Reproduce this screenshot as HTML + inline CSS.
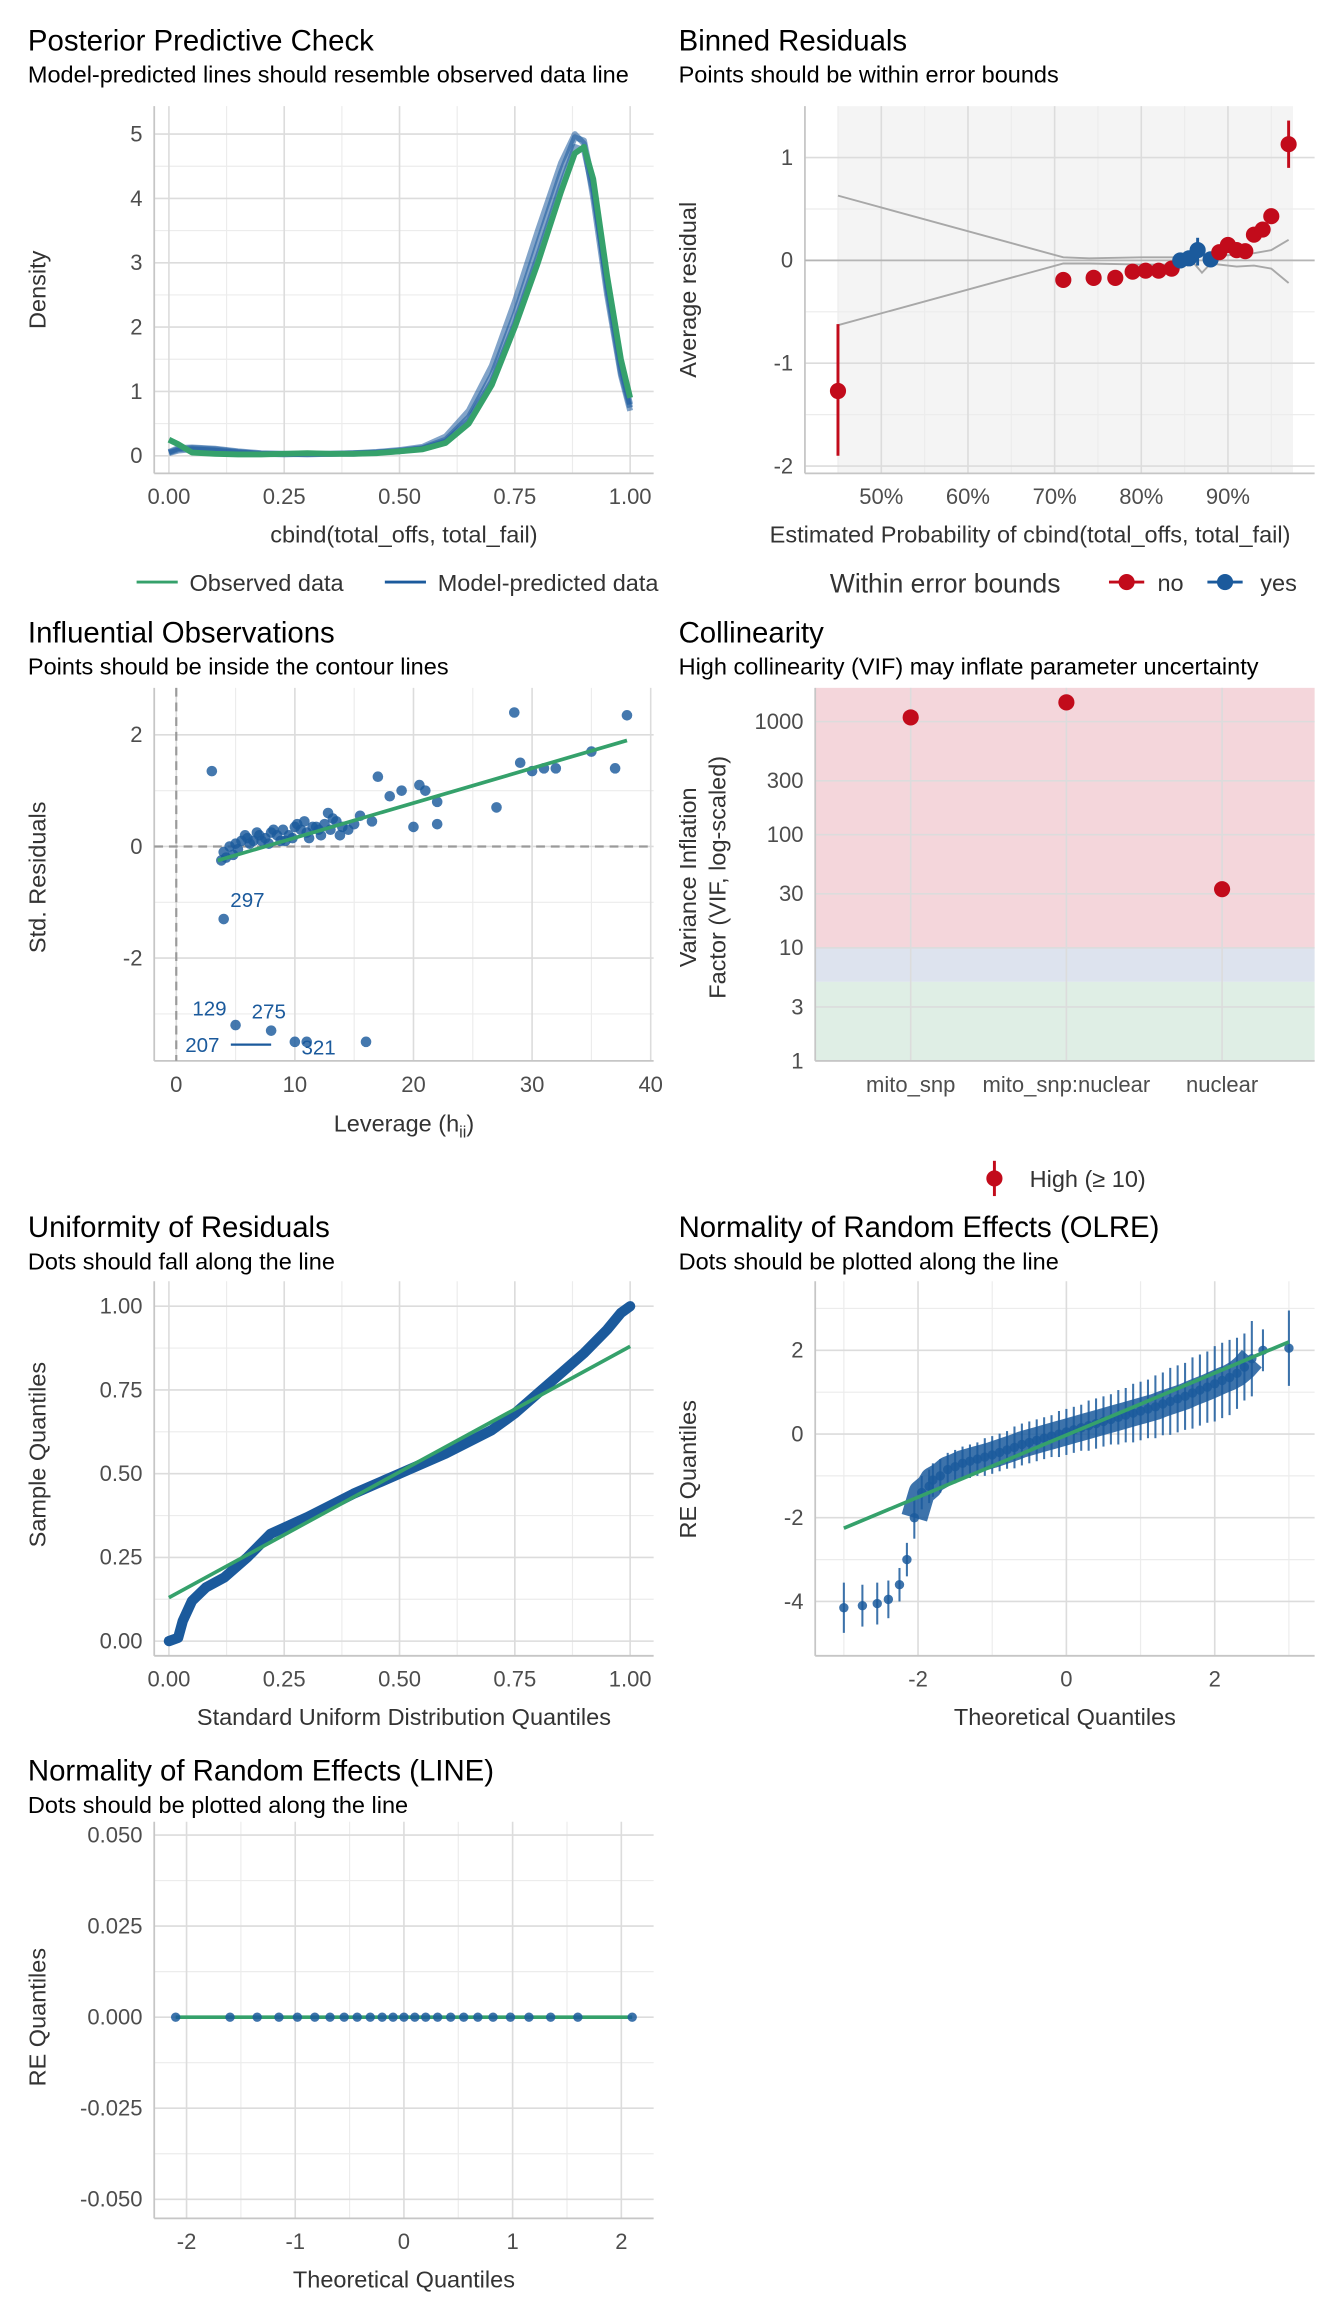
<!DOCTYPE html>
<html><head><meta charset="utf-8"><style>
html,body{margin:0;padding:0;background:#fff;}
svg{display:block;font-family:"Liberation Sans",Arial,sans-serif;}
</style></head><body>
<svg id="chart" width="1344" height="2304" viewBox="0 0 915 1568" xmlns="http://www.w3.org/2000/svg"></svg>
<script>
// ---------- DATA ----------
const ppcX = [0,0.02,0.05,0.1,0.15,0.2,0.25,0.3,0.35,0.4,0.45,0.5,0.55,0.6,0.65,0.7,0.75,0.8,0.85,0.88,0.9,0.92,0.95,0.98,1.0];
const ppcObserved = [0.25,0.18,0.05,0.03,0.02,0.02,0.03,0.04,0.03,0.03,0.04,0.07,0.1,0.2,0.5,1.1,2.0,3.0,4.1,4.7,4.8,4.3,2.8,1.5,0.9];
const ppcDraw1 = [0.05,0.1,0.12,0.1,0.06,0.03,0.03,0.03,0.03,0.04,0.05,0.08,0.12,0.25,0.6,1.25,2.2,3.3,4.4,4.95,4.9,4.2,2.6,1.3,0.75];
const ppcDraw2 = [0.04,0.08,0.1,0.08,0.05,0.03,0.02,0.03,0.03,0.03,0.05,0.07,0.11,0.22,0.55,1.15,2.05,3.1,4.2,4.8,4.75,4.1,2.7,1.4,0.8];
const ppcDraw3 = [0.06,0.12,0.13,0.11,0.07,0.04,0.03,0.02,0.03,0.04,0.06,0.09,0.14,0.3,0.7,1.4,2.4,3.5,4.55,5.0,4.85,4.0,2.5,1.25,0.7];

const binX = [45,71,74.5,77,79,80.5,82,83.5,84.5,85.5,86.5,88,89,90,91,92,93,94,95,97];
const binY = [-1.27,-0.19,-0.17,-0.17,-0.11,-0.1,-0.1,-0.08,0.0,0.02,0.1,0.01,0.08,0.15,0.1,0.09,0.25,0.3,0.43,1.13];
const binLo = [-1.9,-0.19,-0.17,-0.17,-0.11,-0.1,-0.1,-0.08,0.0,0.02,-0.05,0.01,0.08,0.15,0.1,0.09,0.25,0.3,0.43,0.9];
const binHi = [-0.62,-0.19,-0.17,-0.17,-0.11,-0.1,-0.1,-0.08,0.0,0.02,0.22,0.01,0.08,0.15,0.1,0.09,0.25,0.3,0.43,1.36];
const binOk = [0,0,0,0,0,0,0,0,1,1,1,1,0,0,0,0,0,0,0,0];
const boundX = [45,71,74,80,84,86,87,88,90,91,93,95,97];
const boundUp = [0.63,0.03,0.02,0.03,0.03,0.04,0.05,0.05,0.05,0.06,0.07,0.1,0.2];
const boundLow = [-0.63,-0.03,-0.03,-0.04,-0.04,-0.02,-0.12,-0.03,-0.05,-0.06,-0.05,-0.08,-0.22];

const infLev = [3,4,5,8,10,11,16,28.5,38,37,32,30,22,21,20.5,19,18,17,27,35,31,29,20,22,
 4,4.5,5,5.5,6,6.5,7,7.5,8,8.5,9,9.5,10,10.5,11,11.5,12,12.5,13,13.5,14,14.5,15,4.2,5.2,6.2,7.2,8.2,9.2,10.2,11.2,12.2,13.2,5.8,6.8,7.8,8.8,9.8,10.8,11.8,13.8,15.5,16.5,4.8,3.8,12.8];
const infRes = [1.35,-1.3,-3.2,-3.3,-3.5,-3.5,-3.5,2.4,2.35,1.4,1.4,1.35,0.8,1.0,1.1,1.0,0.9,1.25,0.7,1.7,1.4,1.5,0.35,0.4,
 -0.1,0.0,0.05,0.1,0.15,0.1,0.2,0.15,0.25,0.2,0.3,0.2,0.35,0.3,0.25,0.35,0.3,0.4,0.3,0.45,0.35,0.3,0.4,-0.2,-0.05,0.05,0.1,0.3,0.1,0.4,0.15,0.2,0.5,0.2,0.25,0.05,0.1,0.15,0.45,0.35,0.2,0.55,0.45,-0.15,-0.25,0.6];
const infLabels = ["297","129","275","207","321"];
const infLabelLev = [6,2.8,7.8,2.2,12];
const infLabelRes = [-0.95,-2.9,-2.95,-3.55,-3.6];
const infFit = [[3.5,-0.25],[38,1.9]];

const vifTerms = ["mito_snp","mito_snp:nuclear","nuclear"];
const vifValues = [1090,1480,33];

const unifX = [0,0.02,0.03,0.05,0.08,0.12,0.17,0.22,0.3,0.4,0.5,0.6,0.7,0.75,0.8,0.85,0.9,0.95,0.98,1];
const unifY = [0,0.01,0.06,0.12,0.16,0.19,0.25,0.32,0.37,0.44,0.5,0.56,0.63,0.68,0.74,0.8,0.86,0.93,0.98,1];
const unifFit = [[0,0.13],[1,0.88]];

const olreX = [-3,-2.75,-2.55,-2.4,-2.25,-2.15,-2.05,-1.95,-1.85,-1.8,-1.7,-1.6,-1.5,-1.4,-1.3,-1.2,-1.1,-1,-0.9,-0.8,-0.7,-0.6,-0.5,-0.4,-0.3,-0.2,-0.1,0,0.1,0.2,0.3,0.4,0.5,0.6,0.7,0.8,0.9,1,1.1,1.2,1.3,1.4,1.5,1.6,1.7,1.8,1.9,2.0,2.1,2.2,2.3,2.4,2.5,2.65,3.0];
const olreY = [-4.15,-4.1,-4.05,-3.95,-3.6,-3.0,-2.0,-1.4,-1.25,-1.1,-1.0,-0.85,-0.78,-0.7,-0.65,-0.6,-0.55,-0.5,-0.44,-0.38,-0.32,-0.25,-0.2,-0.15,-0.1,-0.05,0.0,0.05,0.1,0.15,0.2,0.25,0.3,0.35,0.4,0.45,0.5,0.55,0.6,0.65,0.72,0.78,0.84,0.9,0.98,1.05,1.12,1.2,1.28,1.35,1.45,1.6,1.8,2.0,2.05];
const olreErr = [0.6,0.5,0.5,0.45,0.4,0.4,0.5,0.4,0.4,0.4,0.4,0.4,0.4,0.4,0.4,0.4,0.45,0.45,0.45,0.45,0.5,0.5,0.5,0.5,0.5,0.5,0.55,0.55,0.55,0.55,0.6,0.6,0.6,0.6,0.65,0.65,0.7,0.7,0.7,0.75,0.75,0.8,0.8,0.8,0.85,0.85,0.85,0.9,0.9,0.9,0.85,0.8,0.9,0.5,0.9];
const olreFit = [[-3,-2.25],[3,2.2]];

const lineX = [-2.1,-1.6,-1.35,-1.15,-0.98,-0.82,-0.68,-0.55,-0.43,-0.31,-0.2,-0.1,0,0.1,0.2,0.31,0.43,0.55,0.68,0.82,0.98,1.15,1.35,1.6,2.1];
const lineY = [0,0,0,0,0,0,0,0,0,0,0,0,0,0,0,0,0,0,0,0,0,0,0,0,0];

// ---------- HELPERS ----------
const svg = document.getElementById('chart');
const NS = 'http://www.w3.org/2000/svg';
const BLUE = '#1b5a9c', GREEN = '#35a16b', RED = '#c20b1b';
function mk(tag, at, parent){const e=document.createElementNS(NS,tag);for(const k in at)e.setAttribute(k,at[k]);(parent||svg).appendChild(e);return e;}
function txt(x,y,s,size,fill,anchor,parent,rot){const t=mk('text',{x:x,y:y,'font-size':size,fill:fill,'text-anchor':anchor||'start'},parent);if(rot)t.setAttribute('transform','rotate(-90 '+x+' '+y+')');t.textContent=s;return t;}
function lin(d0,d1,r0,r1){return v=>r0+(v-d0)/(d1-d0)*(r1-r0);}

function panel(o){
  const g = mk('g',{});
  
  
  txt(o.tx,34+o.ty,o.title,20,'#000','start',g);
  txt(o.tx,56+o.ty,o.sub,16,'#000','start',g);
  if(o.bg) o.bg(g);
  (o.xmin||[]).forEach(v=>mk('line',{x1:o.sx(v),x2:o.sx(v),y1:o.y0,y2:o.y1,stroke:'#ececec','stroke-width':0.8},g));
  (o.ymin||[]).forEach(v=>mk('line',{y1:o.sy(v),y2:o.sy(v),x1:o.x0,x2:o.x1,stroke:'#ececec','stroke-width':0.8},g));
  o.xmaj.forEach(v=>mk('line',{x1:o.sx(v),x2:o.sx(v),y1:o.y0,y2:o.y1,stroke:'#dcdcdc','stroke-width':1.1},g));
  o.ymaj.forEach(v=>mk('line',{y1:o.sy(v),y2:o.sy(v),x1:o.x0,x2:o.x1,stroke:'#dcdcdc','stroke-width':1.1},g));
  mk('line',{x1:o.x0,x2:o.x0,y1:o.y0,y2:o.y1,stroke:'#c6c6c6','stroke-width':1.2},g);
  mk('line',{x1:o.x0,x2:o.x1,y1:o.y1,y2:o.y1,stroke:'#c6c6c6','stroke-width':1.2},g);
  o.xmaj.forEach((v,i)=>{const t=txt(o.sx(v),o.y1+21,o.xlab[i],15,'#4d4d4d','middle',g);});
  o.ymaj.forEach((v,i)=>{const t=txt(o.x0-8,o.sy(v)+5,o.ylab[i],15,'#4d4d4d','end',g);});
  if(o.xtitle){const t=txt(o.xstart||(o.x0+o.x1)/2,o.y1+47,o.xtitle,16,'#333',o.xstart?'start':'middle',g);}
  return g;
}
function polyline(xs,ys,sx,sy,at,g){return mk('polyline',Object.assign({points:xs.map((x,i)=>sx(x)+','+sy(ys[i])).join(' '),fill:'none'},at),g);}

// ---------- PANEL 1: PPC ----------
{
 const sx=lin(0,1,115,429), sy=lin(0,5,310,91);
 const g=panel({name:'posterior-predictive-check',tx:19,ty:0,title:'Posterior Predictive Check',sub:'Model-predicted lines should resemble observed data line',
  x0:105,x1:445,y0:72,y1:322,sx,sy,xmaj:[0,0.25,0.5,0.75,1],xmin:[0.125,0.375,0.625,0.875],ymaj:[0,1,2,3,4,5],ymin:[0.5,1.5,2.5,3.5,4.5],
  xlab:['0.00','0.25','0.50','0.75','1.00'],ylab:['0','1','2','3','4','5'],xtitle:'cbind(total_offs, total_fail)'});
 txt(31,197,'Density',16,'#333','middle',g,true);
 [ppcDraw1,ppcDraw2,ppcDraw3].forEach(d=>{const p=polyline(ppcX,d,sx,sy,{stroke:BLUE,'stroke-width':4,'stroke-opacity':0.55,'stroke-linejoin':'round'},g);});
 const ob=polyline(ppcX,ppcObserved,sx,sy,{stroke:GREEN,'stroke-width':4,'stroke-linejoin':'round'},g);
 
 mk('line',{x1:93,x2:121,y1:396,y2:396,stroke:GREEN,'stroke-width':2},g);
 txt(129,402,'Observed data',16,'#333','start',g);
 mk('line',{x1:262,x2:290,y1:396,y2:396,stroke:BLUE,'stroke-width':2},g);
 txt(298,402,'Model-predicted data',16,'#333','start',g);
}

// ---------- PANEL 2: Binned residuals ----------
{
 const sx=lin(50,90,600,836), sy=lin(0,1,177,107);
 const g=panel({name:'binned-residuals',tx:462,ty:0,title:'Binned Residuals',sub:'Points should be within error bounds',
  x0:548,x1:895,y0:72,y1:322,sx,sy,xmaj:[50,60,70,80,90],xmin:[45,55,65,75,85,95],ymaj:[1,0,-1,-2],ymin:[0.5,-0.5,-1.5],
  xlab:['50%','60%','70%','80%','90%'],ylab:['1','0','-1','-2'],xtitle:'Estimated Probability of cbind(total_offs, total_fail)',xstart:524,
  bg:gg=>{mk('rect',{x:sx(45),y:72,width:sx(97.5)-sx(45),height:250,fill:'#f4f4f4'},gg);}});
 txt(474,197,'Average residual',16,'#333','middle',g,true);
 mk('line',{x1:548,x2:895,y1:sy(0),y2:sy(0),stroke:'#b5b5b5','stroke-width':1.2},g);
 polyline(boundX,boundUp,sx,sy,{stroke:'#a8a8a8','stroke-width':1.3},g);
 polyline(boundX,boundLow,sx,sy,{stroke:'#a8a8a8','stroke-width':1.3},g);
 binX.forEach((x,i)=>{const c=binOk[i]?BLUE:RED;
  const l=mk('line',{x1:sx(x),x2:sx(x),y1:sy(binLo[i]),y2:sy(binHi[i]),stroke:c,'stroke-width':2},g);
  
  const p=mk('circle',{cx:sx(x),cy:sy(binY[i]),r:5.5,fill:c},g);
  });
 txt(565,403,'Within error bounds',18,'#333','start',g);
 mk('line',{x1:755,x2:779,y1:396,y2:396,stroke:RED,'stroke-width':2},g);mk('circle',{cx:767,cy:396,r:5.5,fill:RED},g);
 txt(788,402,'no',16,'#333','start',g);
 mk('line',{x1:822,x2:846,y1:396,y2:396,stroke:BLUE,'stroke-width':2},g);mk('circle',{cx:834,cy:396,r:5.5,fill:BLUE},g);
 txt(858,402,'yes',16,'#333','start',g);
}

// ---------- PANEL 3: Influential ----------
{
 const sx=lin(0,40,120,443), sy=lin(0,2,576,500);
 const g=panel({name:'influential-observations',tx:19,ty:403,title:'Influential Observations',sub:'Points should be inside the contour lines',
  x0:105,x1:445,y0:468,y1:722,sx,sy,xmaj:[0,10,20,30,40],xmin:[5,15,25,35],ymaj:[2,0,-2],ymin:[1,-1,-3],
  xlab:['0','10','20','30','40'],ylab:['2','0','-2'],xtitle:''});
 const xt=txt(275,770,'Leverage (h',16,'#333','middle',g);
 const ts=mk('tspan',{'font-size':11,dy:4},xt);ts.textContent='ii';const ts2=mk('tspan',{dy:-4},xt);ts2.textContent=')';
 txt(31,597,'Std. Residuals',16,'#333','middle',g,true);
 mk('line',{x1:sx(0),x2:sx(0),y1:468,y2:722,stroke:'#9a9a9a','stroke-width':1.5,'stroke-dasharray':'6 4'},g);
 mk('line',{x1:105,x2:445,y1:sy(0),y2:sy(0),stroke:'#9a9a9a','stroke-width':1.5,'stroke-dasharray':'6 4'},g);
 infLev.forEach((x,i)=>{const p=mk('circle',{cx:sx(x),cy:sy(infRes[i]),r:3.6,fill:BLUE,'fill-opacity':0.82},g);});
 const f=mk('line',{x1:sx(infFit[0][0]),y1:sy(infFit[0][1]),x2:sx(infFit[1][0]),y2:sy(infFit[1][1]),stroke:GREEN,'stroke-width':2.5},g);
 
 mk('line',{x1:sx(4.6),x2:sx(8),y1:sy(-3.55),y2:sy(-3.55),stroke:BLUE,'stroke-width':1.5},g);
 infLabels.forEach((s,i)=>{const t=txt(sx(infLabelLev[i]),sy(infLabelRes[i])+5,s,14,BLUE,'middle',g);});
}

// ---------- PANEL 4: Collinearity ----------
{
 const sc=lin(0,3,722,491), sy=v=>sc(Math.log10(v));
 const sx=i=>[620,726,832][i];
 const g=panel({name:'collinearity',tx:462,ty:403,title:'Collinearity',sub:'High collinearity (VIF) may inflate parameter uncertainty',
  x0:555,x1:895,y0:468,y1:722,sx:sx,sy,xmaj:[0,1,2],ymaj:[1,3,10,30,100,300,1000],ymin:[],
  xlab:vifTerms,ylab:['1','3','10','30','100','300','1000'],xtitle:'',
  bg:gg=>{mk('rect',{x:555,y:468,width:340,height:sy(10)-468,fill:'#f4d6db'},gg);
   mk('rect',{x:555,y:sy(10),width:340,height:sy(5)-sy(10),fill:'#dde3ee'},gg);
   mk('rect',{x:555,y:sy(5),width:340,height:722-sy(5),fill:'#dfeee5'},gg);}});
 txt(474,597,'Variance Inflation',16,'#333','middle',g,true);
 txt(494,597,'Factor (VIF, log-scaled)',16,'#333','middle',g,true);
 vifValues.forEach((v,i)=>{const p=mk('circle',{cx:sx(i),cy:sy(v),r:5.5,fill:RED},g);});
 mk('line',{x1:677,x2:677,y1:790,y2:814,stroke:RED,'stroke-width':2},g);mk('circle',{cx:677,cy:802,r:5.5,fill:RED},g);
 txt(701,808,'High (≥ 10)',16,'#333','start',g);
}

// ---------- PANEL 5: Uniformity ----------
{
 const sx=lin(0,1,115,429), sy=lin(0,1,1117,889);
 const g=panel({name:'uniformity-of-residuals',tx:19,ty:808,title:'Uniformity of Residuals',sub:'Dots should fall along the line',
  x0:105,x1:445,y0:872,y1:1127,sx,sy,xmaj:[0,0.25,0.5,0.75,1],xmin:[0.125,0.375,0.625,0.875],ymaj:[0,0.25,0.5,0.75,1],ymin:[0.125,0.375,0.625,0.875],
  xlab:['0.00','0.25','0.50','0.75','1.00'],ylab:['0.00','0.25','0.50','0.75','1.00'],xtitle:'Standard Uniform Distribution Quantiles'});
 txt(31,990,'Sample Quantiles',16,'#333','middle',g,true);
 polyline(unifX,unifY,sx,sy,{stroke:BLUE,'stroke-width':7,'stroke-linejoin':'round','stroke-linecap':'round'},g);
 mk('line',{x1:sx(unifFit[0][0]),y1:sy(unifFit[0][1]),x2:sx(unifFit[1][0]),y2:sy(unifFit[1][1]),stroke:GREEN,'stroke-width':2.5},g);
}

// ---------- PANEL 6: OLRE ----------
{
 const sx=lin(0,2,726,827), sy=lin(0,2,976,919);
 const g=panel({name:'normality-random-effects-olre',tx:462,ty:808,title:'Normality of Random Effects (OLRE)',sub:'Dots should be plotted along the line',
  x0:555,x1:895,y0:872,y1:1127,sx,sy,xmaj:[-2,0,2],xmin:[-3,-1,1,3],ymaj:[2,0,-2,-4],ymin:[3,1,-1,-3],
  xlab:['-2','0','2'],ylab:['2','0','-2','-4'],xtitle:'Theoretical Quantiles'});
 txt(474,1000,'RE Quantiles',16,'#333','middle',g,true);
 olreX.forEach((x,i)=>{const l=mk('line',{x1:sx(x),x2:sx(x),y1:sy(olreY[i]-olreErr[i]),y2:sy(olreY[i]+olreErr[i]),stroke:BLUE,'stroke-width':1.4,'stroke-opacity':0.85},g);
  });
 polyline(olreX.slice(6,53),olreY.slice(6,53),sx,sy,{stroke:BLUE,'stroke-width':18,'stroke-opacity':0.85,'stroke-linejoin':'round'},g);
 olreX.forEach((x,i)=>{
  const p=mk('circle',{cx:sx(x),cy:sy(olreY[i]),r:3.2,fill:BLUE,'fill-opacity':0.85},g);
  });
 mk('line',{x1:sx(olreFit[0][0]),y1:sy(olreFit[0][1]),x2:sx(olreFit[1][0]),y2:sy(olreFit[1][1]),stroke:GREEN,'stroke-width':2.5},g);
}

// ---------- PANEL 7: LINE ----------
{
 const sx=lin(0,1,275,349), sy=lin(0,0.025,1373,1311);
 const g=panel({name:'normality-random-effects-line',tx:19,ty:1178,title:'Normality of Random Effects (LINE)',sub:'Dots should be plotted along the line',
  x0:105,x1:445,y0:1240,y1:1510,sx,sy,xmaj:[-2,-1,0,1,2],xmin:[-1.5,-0.5,0.5,1.5],ymaj:[0.05,0.025,0,-0.025,-0.05],ymin:[0.0375,0.0125,-0.0125,-0.0375],
  xlab:['-2','-1','0','1','2'],ylab:['0.050','0.025','0.000','-0.025','-0.050'],xtitle:'Theoretical Quantiles'});
 txt(31,1373,'RE Quantiles',16,'#333','middle',g,true);
 mk('line',{x1:sx(-2.1),x2:sx(2.1),y1:sy(0),y2:sy(0),stroke:GREEN,'stroke-width':2.5},g);
 lineX.forEach((x,i)=>{const p=mk('circle',{cx:sx(x),cy:sy(lineY[i]),r:3.2,fill:BLUE,'fill-opacity':0.85},g);});
}
</script>
</body></html>
